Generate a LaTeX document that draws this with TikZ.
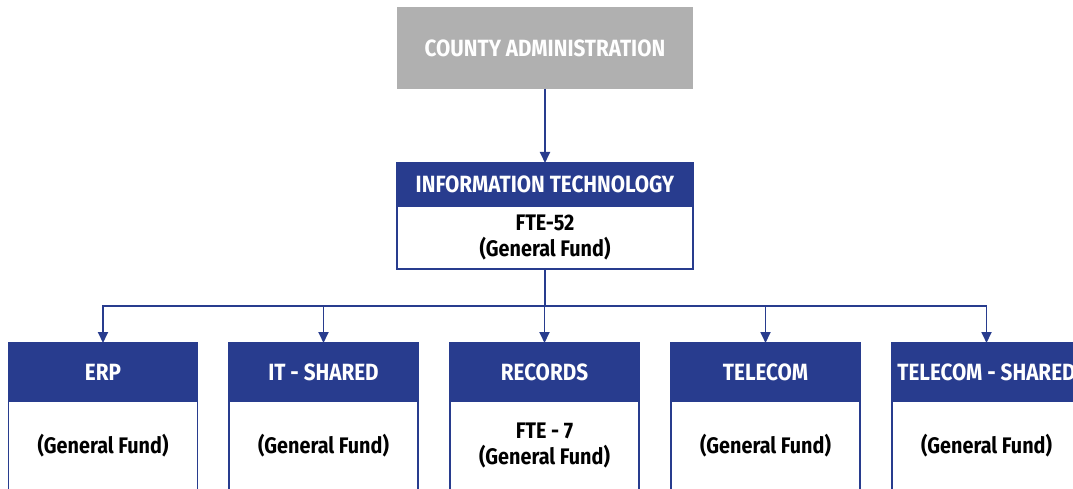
\documentclass[tikz,border=0pt]{standalone}
\usepackage{fontspec}
\setmainfont{Fira Sans}[FakeStretch=0.88]
\usetikzlibrary{arrows.meta}
\definecolor{navy}{HTML}{283C8E}
\definecolor{graybox}{HTML}{B0B0B0}
\tikzset{
  txt/.style={align=center, inner sep=0pt, outer sep=0pt},
  headfont/.style={font=\fontsize{23.5}{26}\selectfont\bfseries},
  bodyfont/.style={font=\fontsize{22.5}{26}\selectfont\bfseries},
  topbox/.style={txt, headfont, fill=graybox, text=white, minimum width=296pt, minimum height=82pt},
  headbox/.style={txt, headfont, fill=navy, draw=navy, line width=1.5pt, text=white},
  bodybox/.style={txt, bodyfont, fill=white, draw=navy, line width=1.5pt, text=black},
  link/.style={draw=navy, line width=1.8pt},
  conn/.style={link, -{Triangle[width=10pt,length=11pt]}}
}
\begin{document}
\begin{tikzpicture}[x=1pt,y=-1pt]
\useasboundingbox (0,0) rectangle (1073,489);
\clip (0,0) rectangle (1073,489);
\node[topbox] (county) at (545,48) {COUNTY ADMINISTRATION};
\node[headbox, minimum width=296pt, minimum height=43pt] (ith) at (545,184.5) {INFORMATION TECHNOLOGY};
\node[bodybox, minimum width=296pt, minimum height=63pt] (itb) at (545,237.5) {FTE-52\\(General Fund)};
\foreach \n/\x/\t/\b in {erp/103/ERP/(General Fund),
                          its/323.5/IT - SHARED/(General Fund),
                          rec/544.5/RECORDS/{FTE - 7\\(General Fund)},
                          tel/765.5/TELECOM/(General Fund),
                          tes/986.5/TELECOM - SHARED/(General Fund)} {
  \node[bodybox, minimum width=189pt, minimum height=88pt] (\n b) at (\x,445.5) {\b};
  \node[headbox, minimum width=189pt, minimum height=58pt] (\n h) at (\x,372) {\t};
}
\coordinate (bus) at (545,306);
\draw[conn] (county.south) -- (ith.north);
\draw[link] (itb.south) -- (bus);
\foreach \n in {erp,its,rec,tel,tes} {
  \draw[conn] (bus) -| (\n h.north);
}
\end{tikzpicture}
\end{document}
